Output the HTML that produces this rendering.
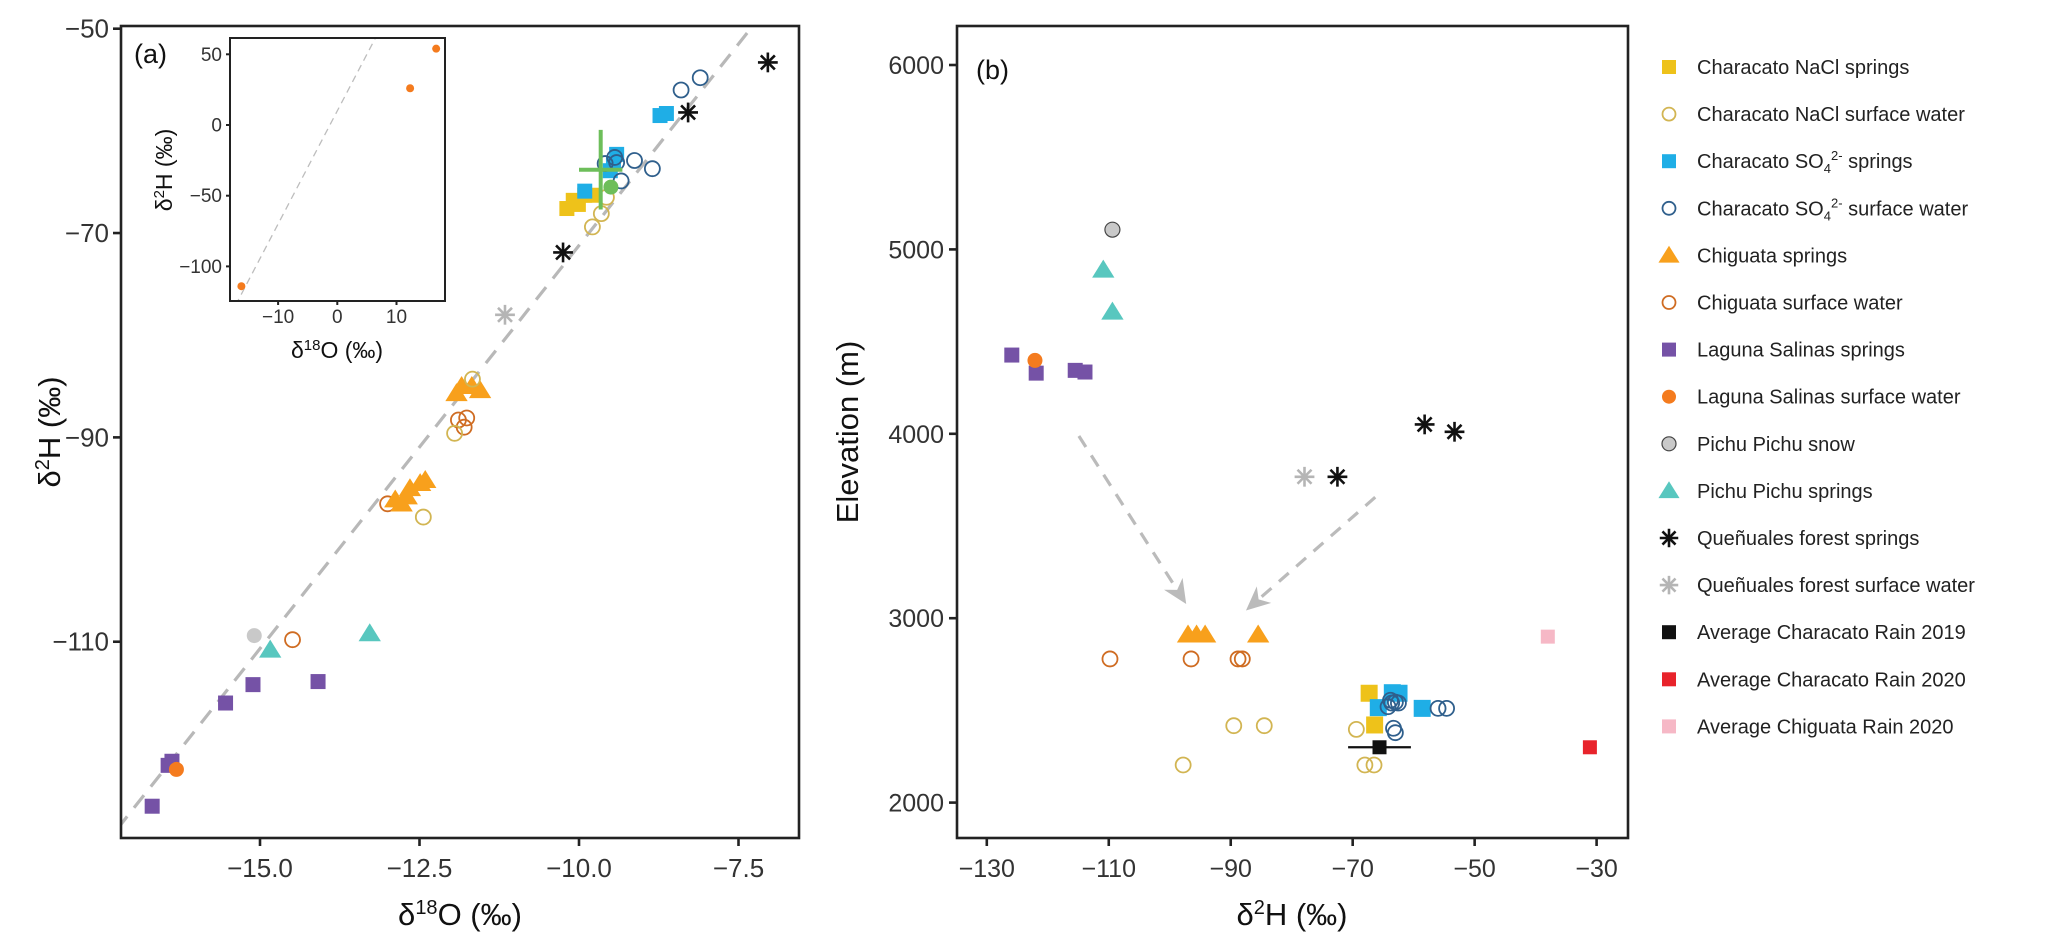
<!DOCTYPE html>
<html><head><meta charset="utf-8"><style>
html,body{margin:0;padding:0;background:#fff;}
svg{display:block;font-family:"Liberation Sans",Arial,sans-serif;}
</style></head><body>
<svg id="chart" width="2067" height="947" viewBox="0 0 2067 947" xmlns="http://www.w3.org/2000/svg">
<defs>
<clipPath id="clipA"><rect x="121" y="26" width="678" height="812"/></clipPath>
<clipPath id="clipI"><rect x="230" y="38" width="215" height="263"/></clipPath>
</defs>
<rect x="0" y="0" width="2067" height="947" fill="#fff"/>
<g id="panelA"></g>
<g id="panelB"></g>
<g id="legend"></g>
</svg>
<script>
// ---------- Panel (a) data ----------
const aXTicks = [-15, -12.5, -10, -7.5];
const aXTickLabels = ["\u221215.0", "\u221212.5", "\u221210.0", "\u22127.5"];
const aYTicks = [-50, -70, -90, -110];
const aYTickLabels = ["\u221250", "\u221270", "\u221290", "\u2212110"];
const aLineX = [-17.5, -6.5];
const aLineY = [-130.4, -43.6];
const aNaclSprX = [-10.19, -10.09, -9.91, -9.80, -10.01];
const aNaclSprY = [-67.6, -66.8, -66.3, -66.3, -67.2];
const aNaclSwX = [-9.57, -9.65, -9.79, -11.67, -11.95, -12.44];
const aNaclSwY = [-66.5, -68.1, -69.4, -84.3, -89.6, -97.8];
const aSo4SprX = [-8.73, -8.63, -9.51, -9.41, -9.91, -9.46];
const aSo4SprY = [-58.5, -58.3, -63.9, -62.3, -65.9, -63.2];
const aSo4SwX = [-8.10, -8.40, -9.13, -8.85, -9.34, -9.44, -9.59, -9.41];
const aSo4SwY = [-54.8, -56.0, -62.9, -63.7, -64.9, -62.6, -63.2, -63.1];
const aChiSprX = [-11.92, -11.84, -11.68, -11.55, -12.88, -12.78, -12.65, -12.49, -12.41, -12.70];
const aChiSprY = [-85.7, -85.0, -85.0, -85.4, -96.1, -96.5, -95.0, -94.5, -94.2, -95.8];
const aChiSwX = [-11.89, -11.76, -11.80, -13.0, -14.49];
const aChiSwY = [-88.3, -88.1, -89.0, -96.5, -109.8];
const aLsSprX = [-15.11, -14.09, -15.54, -16.38, -16.44, -16.69];
const aLsSprY = [-114.2, -113.9, -116.0, -121.7, -122.1, -126.1];
const aLsSwX = [-16.31];
const aLsSwY = [-122.5];
const aSnowX = [-15.09];
const aSnowY = [-109.4];
const aPpSprX = [-14.84, -13.28];
const aPpSprY = [-110.8, -109.2];
const aQSprX = [-7.04, -8.29, -10.25];
const aQSprY = [-53.3, -58.2, -71.9];
const aQSwX = [-11.16];
const aQSwY = [-78.0];
const aMeanX = [-9.66];
const aMeanY = [-63.8];
const aMeanErrX = [0.34];
const aMeanErrY = [3.9];
const aGreenX = [-9.50];
const aGreenY = [-65.5];
// inset
const iXTicks = [-10, 0, 10];
const iXTickLabels = ["\u221210", "0", "10"];
const iYTicks = [50, 0, -50, -100];
const iYTickLabels = ["50", "0", "\u221250", "\u2212100"];
const iLineX = [-20, 20];
const iLineY = [-150, 170];
const iPtsX = [16.7, 12.3, -16.2];
const iPtsY = [54, 26, -114];

// ---------- Panel (b) data ----------
const bXTicks = [-130, -110, -90, -70, -50, -30];
const bXTickLabels = ["\u2212130", "\u2212110", "\u221290", "\u221270", "\u221250", "\u221230"];
const bYTicks = [2000, 3000, 4000, 5000, 6000];
const bYTickLabels = ["2000", "3000", "4000", "5000", "6000"];
const bNaclSprX = [-67.3, -66.4];
const bNaclSprY = [2593, 2421];
const bNaclSwX = [-89.5, -84.5, -69.4, -97.8, -68.0, -66.5];
const bNaclSwY = [2417, 2417, 2397, 2204, 2204, 2204];
const bSo4SprX = [-63.5, -62.4, -65.8, -58.6];
const bSo4SprY = [2596, 2593, 2515, 2511];
const bSo4SwX = [-64.2, -63.6, -63.0, -62.5, -63.8, -56.0, -54.6, -63.3, -63.0];
const bSo4SwY = [2520, 2540, 2545, 2540, 2555, 2511, 2511, 2403, 2379];
const bChiSprX = [-97.0, -95.6, -94.2, -85.5];
const bChiSprY = [2910, 2910, 2910, 2910];
const bChiSwX = [-109.8, -96.5, -88.8, -88.1];
const bChiSwY = [2779, 2779, 2779, 2779];
const bLsSprX = [-125.9, -121.9, -115.5, -113.9];
const bLsSprY = [4427, 4329, 4344, 4335];
const bLsSwX = [-122.1];
const bLsSwY = [4398];
const bSnowX = [-109.4];
const bSnowY = [5107];
const bPpSprX = [-110.9, -109.4];
const bPpSprY = [4889, 4661];
const bQSprX = [-58.2, -53.3, -72.5];
const bQSprY = [4051, 4011, 3767];
const bQSwX = [-77.9];
const bQSwY = [3767];
const bRain19X = [-65.6];
const bRain19Y = [2300];
const bRain19Err = [5.15];
const bRain20X = [-31.1];
const bRain20Y = [2300];
const bChiRainX = [-38];
const bChiRainY = [2900];
const bArrowX0 = [-114.9, -66.3];
const bArrowY0 = [3988, 3656];
const bArrowX1 = [-97.3, -87.5];
const bArrowY1 = [3077, 3042];

// ---------- helpers ----------
const NS = "http://www.w3.org/2000/svg";
function mk(parent, tag, attrs) {
  const e = document.createElementNS(NS, tag);
  for (const k in attrs) e.setAttribute(k, attrs[k]);
  parent.appendChild(e);
  return e;
}
const C = {
  naclSpr: "#EEC21A", naclSw: "#D2B552", so4Spr: "#1FAEE6", so4Sw: "#2F5F8C",
  chiSpr: "#F8A01C", chiSw: "#CF6C22", lsSpr: "#7552A6", lsSw: "#F47B1E",
  snow: "#C9C9C9", ppSpr: "#58C7BF", qSpr: "#111111", qSw: "#B5B5B5",
  r19: "#111111", r20: "#E8232B", chiRain: "#F6B8C6", green: "#6DBE5A"
};
function marker(g, shape, cx, cy, color, s) {
  let el;
  if (shape === "sq") {
    el = mk(g, "rect", {x: cx - s/2, y: cy - s/2, width: s, height: s, fill: color});
  } else if (shape === "open") {
    el = mk(g, "circle", {cx: cx, cy: cy, r: s/2 - 0.5, fill: "none", stroke: color, "stroke-width": 1.8});
  } else if (shape === "dot") {
    el = mk(g, "circle", {cx: cx, cy: cy, r: s/2, fill: color});
  } else if (shape === "snow") {
    el = mk(g, "circle", {cx: cx, cy: cy, r: s/2, fill: color, stroke: "#444", "stroke-width": 1.2});
  } else if (shape === "tri") {
    const h = s * 0.95;
    el = mk(g, "polygon", {points: (cx) + "," + (cy - h*0.6) + " " + (cx - s*0.62) + "," + (cy + h*0.45) + " " + (cx + s*0.62) + "," + (cy + h*0.45), fill: color});
  } else if (shape === "star") {
    el = mk(g, "g", {stroke: color, "stroke-width": 2.6});
    const r = s * 0.66;
    for (let k = 0; k < 4; k++) {
      const a = k * Math.PI / 4;
      mk(el, "line", {x1: cx - r*Math.cos(a), y1: cy - r*Math.sin(a), x2: cx + r*Math.cos(a), y2: cy + r*Math.sin(a)});
    }
  }
  return el;
}
function series(g, xs, ys, fx, fy, shape, color, s, name) {
  for (let i = 0; i < xs.length; i++) {
    const el = marker(g, shape, fx(xs[i]), fy(ys[i]), color, s);
    
    
  }
}
function txt(g, x, y, str, attrs) {
  const t = mk(g, "text", Object.assign({x: x, y: y}, attrs || {}));
  t.textContent = str;
  return t;
}

// ---------- Panel (a) ----------
const ax = v => 260 + (v + 15) * 63.8;
const ay = v => 28.7 + (-50 - v) * 10.217;
const ix = v => 337.3 + v * 5.92;
const iy = v => 125 - 1.414 * v;
const A = document.getElementById("panelA");
{
  const clipG = mk(A, "g", {"clip-path": "url(#clipA)"});
  const ln = mk(clipG, "line", {x1: ax(aLineX[0]), y1: ay(aLineY[0]), x2: ax(aLineX[1]), y2: ay(aLineY[1]), stroke: "#B8B8B8", "stroke-width": 3.2, "stroke-dasharray": "16 11"});
  
  
  series(clipG, aLsSprX, aLsSprY, ax, ay, "sq", C.lsSpr, 15, "laguna-salinas-springs-point");
  series(clipG, aLsSwX, aLsSwY, ax, ay, "dot", C.lsSw, 15, "laguna-salinas-surface-point");
  series(clipG, aSnowX, aSnowY, ax, ay, "dot", C.snow, 15, "pichu-snow-point");
  series(clipG, aPpSprX, aPpSprY, ax, ay, "tri", C.ppSpr, 18, "pichu-springs-point");
  series(clipG, aChiSwX, aChiSwY, ax, ay, "open", C.chiSw, 16, "chiguata-surface-point");
  series(clipG, aChiSprX, aChiSprY, ax, ay, "tri", C.chiSpr, 18, "chiguata-springs-point");
  series(clipG, aNaclSwX, aNaclSwY, ax, ay, "open", C.naclSw, 16, "nacl-surface-point");
  series(clipG, aNaclSprX, aNaclSprY, ax, ay, "sq", C.naclSpr, 15, "nacl-springs-point");
  series(clipG, aSo4SprX, aSo4SprY, ax, ay, "sq", C.so4Spr, 15, "so4-springs-point");
  series(clipG, aSo4SwX, aSo4SwY, ax, ay, "open", C.so4Sw, 16, "so4-surface-point");
  series(clipG, aGreenX, aGreenY, ax, ay, "dot", C.green, 15, "mean-green-point");
  for (let i = 0; i < aMeanX.length; i++) {
    const cg = mk(clipG, "g", {stroke: C.green, "stroke-width": 4});
    
    
    mk(cg, "line", {x1: ax(aMeanX[i] - aMeanErrX[i]), y1: ay(aMeanY[i]), x2: ax(aMeanX[i] + aMeanErrX[i]), y2: ay(aMeanY[i])});
    mk(cg, "line", {x1: ax(aMeanX[i]), y1: ay(aMeanY[i] - aMeanErrY[i]), x2: ax(aMeanX[i]), y2: ay(aMeanY[i] + aMeanErrY[i])});
  }
  series(clipG, aQSwX, aQSwY, ax, ay, "star", C.qSw, 15, "quenuales-surface-point");
  series(clipG, aQSprX, aQSprY, ax, ay, "star", C.qSpr, 15, "quenuales-springs-point");

  const fr = mk(A, "rect", {x: 121, y: 26, width: 678, height: 812, fill: "none", stroke: "#222", "stroke-width": 2.6});
  
  
  aXTicks.forEach((v, i) => {
    mk(A, "line", {x1: ax(v), y1: 838, x2: ax(v), y2: 846, stroke: "#222", "stroke-width": 2.6});
    const t = txt(A, ax(v), 877, aXTickLabels[i], {"text-anchor": "middle", "font-size": 26, fill: "#333"});
    
    
  });
  aYTicks.forEach((v, i) => {
    mk(A, "line", {x1: 113, y1: ay(v), x2: 121, y2: ay(v), stroke: "#222", "stroke-width": 2.6});
    const t = txt(A, 109, ay(v) + 9, aYTickLabels[i], {"text-anchor": "end", "font-size": 26, fill: "#333"});
    
    
  });
  const xt = txt(A, 460, 925, "", {"text-anchor": "middle", "font-size": 31, fill: "#111"});
  xt.innerHTML = 'δ<tspan font-size="20" dy="-11">18</tspan><tspan dy="11">O (‰)</tspan>';
  
  
  const yt = txt(A, 0, 0, "", {"text-anchor": "middle", "font-size": 31, fill: "#111", transform: "translate(60,432) rotate(-90)"});
  yt.innerHTML = 'δ<tspan font-size="20" dy="-11">2</tspan><tspan dy="11">H (‰)</tspan>';
  
  
  const pl = txt(A, 134, 63, "(a)", {"font-size": 27, fill: "#111"});
  
  

  // inset
  const I = mk(A, "g", {});
  
  
  mk(I, "rect", {x: 230, y: 38, width: 215, height: 263, fill: "#fff"});
  const ic = mk(I, "g", {"clip-path": "url(#clipI)"});
  const il = mk(ic, "line", {x1: ix(iLineX[0]), y1: iy(iLineY[0]), x2: ix(iLineX[1]), y2: iy(iLineY[1]), stroke: "#BDBDBD", "stroke-width": 1.3, "stroke-dasharray": "7 5"});
  
  
  series(ic, iPtsX, iPtsY, ix, iy, "dot", C.lsSw, 8, "inset-point");
  mk(I, "rect", {x: 230, y: 38, width: 215, height: 263, fill: "none", stroke: "#222", "stroke-width": 2});
  iXTicks.forEach((v, i) => {
    mk(I, "line", {x1: ix(v), y1: 301, x2: ix(v), y2: 305, stroke: "#222", "stroke-width": 2});
    const t = txt(I, ix(v), 323, iXTickLabels[i], {"text-anchor": "middle", "font-size": 19, fill: "#333"});
    
    
  });
  iYTicks.forEach((v, i) => {
    mk(I, "line", {x1: 226, y1: iy(v), x2: 230, y2: iy(v), stroke: "#222", "stroke-width": 2});
    const t = txt(I, 222, iy(v) + 6.5, iYTickLabels[i], {"text-anchor": "end", "font-size": 19, fill: "#333"});
    
    
  });
  const ixt = txt(I, 337, 358, "", {"text-anchor": "middle", "font-size": 23, fill: "#111"});
  ixt.innerHTML = 'δ<tspan font-size="15" dy="-8">18</tspan><tspan dy="8">O (‰)</tspan>';
  
  
  const iyt = txt(I, 0, 0, "", {"text-anchor": "middle", "font-size": 23, fill: "#111", transform: "translate(172,170) rotate(-90)"});
  iyt.innerHTML = 'δ<tspan font-size="15" dy="-8">2</tspan><tspan dy="8">H (‰)</tspan>';
  
  
}

// ---------- Panel (b) ----------
const bx = v => 986.8 + (v + 130) * 6.098;
const by = v => 65 + (6000 - v) * 0.1844;
const B = document.getElementById("panelB");
{
  for (let i = 0; i < bArrowX0.length; i++) {
    const x0 = bx(bArrowX0[i]), y0 = by(bArrowY0[i]), x1 = bx(bArrowX1[i]), y1 = by(bArrowY1[i]);
    const ag = mk(B, "g", {});
    
    
    const dx = x1 - x0, dy = y1 - y0, L = Math.hypot(dx, dy), ux = dx / L, uy = dy / L;
    const hl = 24, hw = 11;
    mk(ag, "line", {x1: x0, y1: y0, x2: x1 - ux * hl * 0.8, y2: y1 - uy * hl * 0.8, stroke: "#BBBBBB", "stroke-width": 3.2, "stroke-dasharray": "13 10"});
    const bx0 = x1 - ux * hl, by0 = y1 - uy * hl;
    mk(ag, "polygon", {points: x1 + "," + y1 + " " + (bx0 - uy * hw) + "," + (by0 + ux * hw) + " " + (x1 - ux * hl * 0.7) + "," + (y1 - uy * hl * 0.7) + " " + (bx0 + uy * hw) + "," + (by0 - ux * hw), fill: "#BBBBBB"});
  }
  series(B, bLsSprX, bLsSprY, bx, by, "sq", C.lsSpr, 15, "laguna-salinas-springs-point");
  series(B, bLsSwX, bLsSwY, bx, by, "dot", C.lsSw, 15, "laguna-salinas-surface-point");
  series(B, bSnowX, bSnowY, bx, by, "snow", C.snow, 15, "pichu-snow-point");
  series(B, bPpSprX, bPpSprY, bx, by, "tri", C.ppSpr, 18, "pichu-springs-point");
  series(B, bChiSwX, bChiSwY, bx, by, "open", C.chiSw, 16, "chiguata-surface-point");
  series(B, bChiSprX, bChiSprY, bx, by, "tri", C.chiSpr, 18, "chiguata-springs-point");
  series(B, bNaclSwX, bNaclSwY, bx, by, "open", C.naclSw, 16, "nacl-surface-point");
  series(B, bNaclSprX, bNaclSprY, bx, by, "sq", C.naclSpr, 17, "nacl-springs-point");
  series(B, bSo4SprX, bSo4SprY, bx, by, "sq", C.so4Spr, 17, "so4-springs-point");
  series(B, bSo4SwX, bSo4SwY, bx, by, "open", C.so4Sw, 16, "so4-surface-point");
  series(B, bQSwX, bQSwY, bx, by, "star", C.qSw, 15, "quenuales-surface-point");
  series(B, bQSprX, bQSprY, bx, by, "star", C.qSpr, 15, "quenuales-springs-point");
  for (let i = 0; i < bRain19X.length; i++) {
    const e = mk(B, "line", {x1: bx(bRain19X[i] - bRain19Err[i]), y1: by(bRain19Y[i]), x2: bx(bRain19X[i] + bRain19Err[i]), y2: by(bRain19Y[i]), stroke: "#111", "stroke-width": 2.2});
    
    
  }
  series(B, bRain19X, bRain19Y, bx, by, "sq", C.r19, 14, "characato-rain-2019-point");
  series(B, bRain20X, bRain20Y, bx, by, "sq", C.r20, 14, "characato-rain-2020-point");
  series(B, bChiRainX, bChiRainY, bx, by, "sq", C.chiRain, 14, "chiguata-rain-2020-point");

  const fr = mk(B, "rect", {x: 957, y: 26, width: 671, height: 812, fill: "none", stroke: "#222", "stroke-width": 2.6});
  
  
  bXTicks.forEach((v, i) => {
    mk(B, "line", {x1: bx(v), y1: 838, x2: bx(v), y2: 846, stroke: "#222", "stroke-width": 2.6});
    const t = txt(B, bx(v), 877, bXTickLabels[i], {"text-anchor": "middle", "font-size": 25, fill: "#333"});
    
    
  });
  bYTicks.forEach((v, i) => {
    mk(B, "line", {x1: 949, y1: by(v), x2: 957, y2: by(v), stroke: "#222", "stroke-width": 2.6});
    const t = txt(B, 944, by(v) + 9, bYTickLabels[i], {"text-anchor": "end", "font-size": 25, fill: "#333"});
    
    
  });
  const xt = txt(B, 1292, 925, "", {"text-anchor": "middle", "font-size": 31, fill: "#111"});
  xt.innerHTML = 'δ<tspan font-size="20" dy="-11">2</tspan><tspan dy="11">H (‰)</tspan>';
  
  
  const yt = txt(B, 0, 0, "Elevation (m)", {"text-anchor": "middle", "font-size": 31, fill: "#111", transform: "translate(858,432) rotate(-90)"});
  
  
  const pl = txt(B, 976, 79, "(b)", {"font-size": 27, fill: "#111"});
  
  
}

// ---------- Legend ----------
const legLabels = [
  "Characato NaCl springs", "Characato NaCl surface water",
  'Characato SO<tspan font-size="13" dy="5">4</tspan><tspan font-size="13" dy="-13">2-</tspan><tspan dy="8"> springs</tspan>',
  'Characato SO<tspan font-size="13" dy="5">4</tspan><tspan font-size="13" dy="-13">2-</tspan><tspan dy="8"> surface water</tspan>',
  "Chiguata springs", "Chiguata surface water", "Laguna Salinas springs", "Laguna Salinas surface water",
  "Pichu Pichu snow", "Pichu Pichu springs", "Queñuales forest springs", "Queñuales forest surface water",
  "Average Characato Rain 2019", "Average Characato Rain 2020", "Average Chiguata Rain 2020"
];
const legShapes = ["sq","open","sq","open","tri","open","sq","dot","snow","tri","star","star","sq","sq","sq"];
const legColors = [C.naclSpr, C.naclSw, C.so4Spr, C.so4Sw, C.chiSpr, C.chiSw, C.lsSpr, C.lsSw, C.snow, C.ppSpr, C.qSpr, C.qSw, C.r19, C.r20, C.chiRain];
const LG = document.getElementById("legend");
legLabels.forEach((lab, i) => {
  const y = 67 + i * 47.1;
  const row = mk(LG, "g", {});
  
  
  const s = legShapes[i] === "tri" ? 17 : (legShapes[i] === "star" ? 14 : 14);
  marker(row, legShapes[i], 1669, y, legColors[i], s);
  const t = txt(row, 1697, y + 7, "", {"font-size": 20, fill: "#222"});
  t.innerHTML = lab;
});
</script>
</body></html>
